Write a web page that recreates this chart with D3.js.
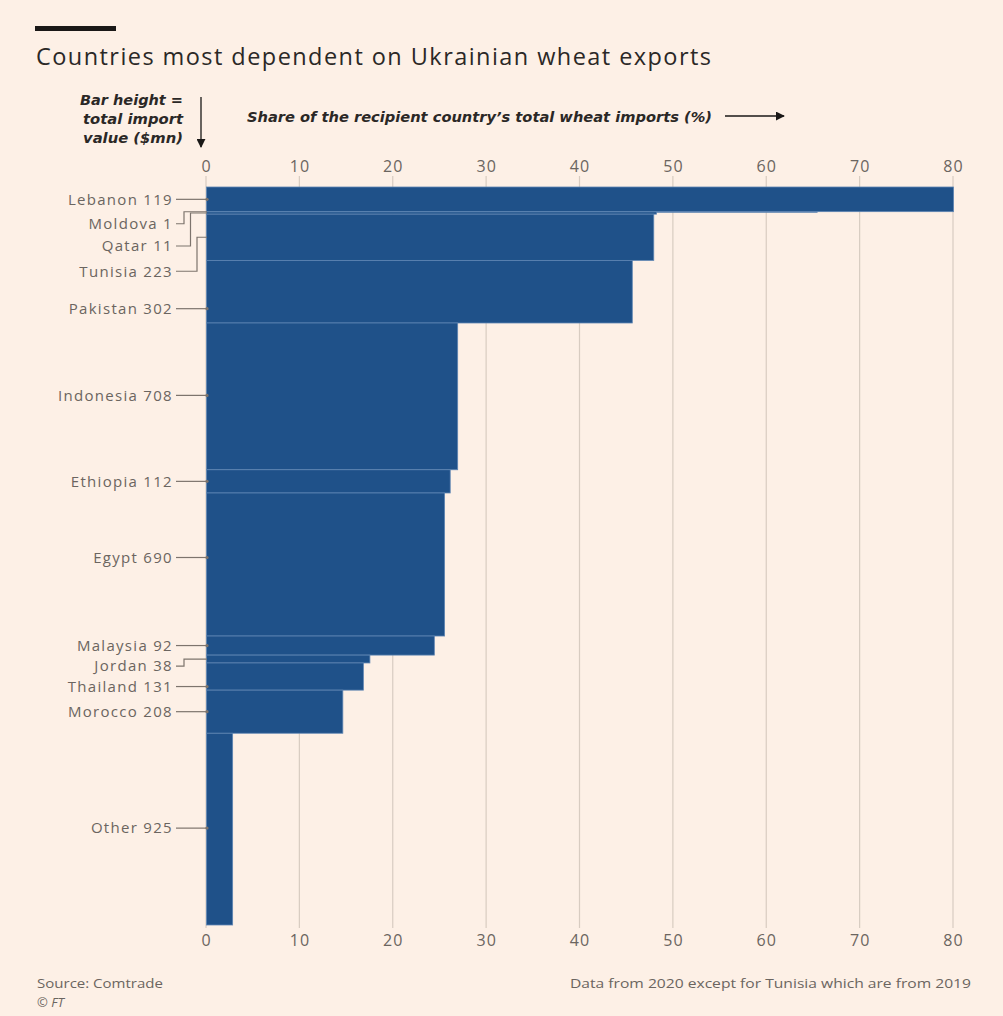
<!DOCTYPE html>
<html>
<head>
<meta charset="utf-8">
<script src="https://cdn.jsdelivr.net/npm/d3@7"></script>
<style>
  html, body { margin: 0; padding: 0; background: #fdf0e6; }
  svg { display: block; }
</style>
</head>
<body>
<svg id="chart" width="1003" height="1016"></svg>
<script>
// ---------- DATA ----------
const countries = ["Lebanon", "Moldova", "Qatar", "Tunisia", "Pakistan", "Indonesia", "Ethiopia", "Egypt", "Malaysia", "Jordan", "Thailand", "Morocco", "Other"];
const importValues = [119, 1, 11, 223, 302, 708, 112, 690, 92, 38, 131, 208, 925];   // $mn -> bar height
const sharePct = [80.0, 65.4, 48.2, 47.9, 45.6, 26.9, 26.1, 25.5, 24.4, 17.5, 16.8, 14.6, 2.8]; // % -> bar length
const tickValues = [0, 10, 20, 30, 40, 50, 60, 70, 80];

// ---------- LAYOUT (label nudges, px) ----------
const labelNudge = { Lebanon: 0, Moldova: 12, Qatar: 33, Tunisia: 34, Pakistan: 17, Indonesia: -1, Ethiopia: 0, Egypt: -7, Malaysia: 0, Jordan: 7, Thailand: 10, Morocco: 0, Other: -1 };

const W = 1003, H = 1016;
const bg = "#fdf0e6";
const barColor = "#1f5189";
const textGrey = "#6b6560";
const gridColor = "#d8ccc1";
const font = "'Open Sans', 'Noto Sans', sans-serif";
const annFont = "'DejaVu Sans', 'Open Sans', sans-serif";

const svg = d3.select("#chart");
svg.append("rect").attr("width", W).attr("height", H).attr("fill", bg);

const total = d3.sum(importValues);
const x = d3.scaleLinear().domain([0, 80]).range([206, 953]);
const y = d3.scaleLinear().domain([0, total]).range([187, 925]);

// rows
let cum = 0;
const rows = countries.map((c, i) => {
  const r = { name: c, value: importValues[i], share: sharePct[i], y0: cum, y1: cum + importValues[i] };
  cum += importValues[i];
  return r;
});

// header rule
svg.append("rect").attr("x", 35).attr("y", 26).attr("width", 81).attr("height", 5).attr("fill", "#1a1817");

// title
svg.append("text").attr("x", 36).attr("y", 65)
  .attr("font-family", font).attr("font-size", 23.5).attr("fill", "#2b2826")
  .attr("textLength", 675).attr("lengthAdjust", "spacing")
  .text("Countries most dependent on Ukrainian wheat exports");

// annotation: bar height
const annLines = ["Bar height =", "total import", "value ($mn)"];
const annWidths = [103, 100, 100];
annLines.forEach((t, i) => {
  svg.append("text").attr("x", 183 - annWidths[i]).attr("y", 105 + i * 19)
    .attr("font-family", annFont).attr("font-size", 13.5)
    .attr("font-weight", "bold").attr("font-style", "italic").attr("fill", "#2b2826")
    .attr("textLength", annWidths[i]).attr("lengthAdjust", "spacingAndGlyphs")
    .text(t);
});

svg.append("defs").append("marker").attr("id", "ah").attr("viewBox", "0 0 10 10")
  .attr("refX", 9).attr("refY", 5).attr("markerWidth", 9).attr("markerHeight", 9)
  .attr("markerUnits", "userSpaceOnUse").attr("orient", "auto")
  .append("path").attr("d", "M0,0 L10,5 L0,10 Z").attr("fill", "#1a1817");

svg.append("line").attr("x1", 201).attr("y1", 97).attr("x2", 201).attr("y2", 147)
  .attr("stroke", "#1a1817").attr("stroke-width", 1.3).attr("marker-end", "url(#ah)");

svg.append("text").attr("x", 247).attr("y", 122)
  .attr("font-family", annFont).attr("font-size", 13.5)
  .attr("font-weight", "bold").attr("font-style", "italic").attr("fill", "#2b2826")
  .attr("textLength", 465).attr("lengthAdjust", "spacingAndGlyphs")
  .text("Share of the recipient country\u2019s total wheat imports (%)");

svg.append("line").attr("x1", 725).attr("y1", 116).attr("x2", 784).attr("y2", 116)
  .attr("stroke", "#1a1817").attr("stroke-width", 1.3).attr("marker-end", "url(#ah)");

// gridlines
svg.append("g").selectAll("line").data(tickValues).join("line")
  .attr("x1", d => x(d)).attr("x2", d => x(d))
  .attr("y1", 176).attr("y2", 928)
  .attr("stroke", gridColor).attr("stroke-width", 1.2);

// axes
function styleAxis(g) {
  g.select(".domain").remove();
  g.selectAll(".tick line").remove();
  g.selectAll("text").attr("font-family", font).attr("font-size", 16)
    .attr("letter-spacing", 1).attr("fill", textGrey);
}
svg.append("g").attr("transform", "translate(0,172)")
  .call(d3.axisTop(x).tickValues(tickValues).tickSize(0).tickPadding(0))
  .call(styleAxis);
svg.append("g").attr("transform", "translate(0,935)")
  .call(d3.axisBottom(x).tickValues(tickValues).tickSize(0).tickPadding(0))
  .call(styleAxis)
  .selectAll("text").attr("dy", "0.71em");

// bars
svg.append("g").selectAll("rect").data(rows).join("rect")
  .attr("x", x(0) + 0.5)
  .attr("y", d => y(d.y0))
  .attr("width", d => x(d.share) - x(0))
  .attr("height", d => Math.max(0.6, y(d.y1) - y(d.y0)))
  .attr("fill", barColor)
  .attr("stroke", "#5f86b3").attr("stroke-width", 0.8);

// labels with connectors
const lab = svg.append("g");
let elbowIdx = 0;
rows.forEach((d, i) => {
  const cy = (y(d.y0) + y(d.y1)) / 2;
  const ly = cy + (labelNudge[d.name] || 0);
  const top = y(d.y0), bot = y(d.y1);
  const x0 = 176, xEnd = x(0) + 1;
  let path;
  if (ly >= top && ly <= bot) {
    path = `M${x0},${ly} H${xEnd}`;
    elbowIdx = 0;
    lab.append("circle").attr("cx", xEnd).attr("cy", ly).attr("r", 1.6).attr("fill", "#7d746d");
  } else {
    const ex = 184 + elbowIdx * 6.5;
    path = `M${x0},${ly} H${ex} V${cy} H${xEnd}`;
    elbowIdx++;
  }
  lab.append("path").attr("d", path).attr("fill", "none")
    .attr("stroke", "#7d746d").attr("stroke-width", 1.2);
  lab.append("text").attr("x", 173).attr("y", ly).attr("dy", "0.35em")
    .attr("text-anchor", "end").attr("font-family", font).attr("font-size", 15)
    .attr("letter-spacing", 1.3)
    .attr("fill", textGrey)
    .text(`${d.name} ${d.value}`);
});

// footer
svg.append("text").attr("x", 37).attr("y", 988).attr("font-family", font)
  .attr("font-size", 13).attr("fill", textGrey)
  .attr("textLength", 126).attr("lengthAdjust", "spacingAndGlyphs")
  .text("Source: Comtrade");
svg.append("text").attr("x", 37).attr("y", 1007).attr("font-family", font)
  .attr("font-size", 13).attr("font-style", "italic").attr("fill", textGrey).text("\u00A9 FT");
svg.append("text").attr("x", 570).attr("y", 988).attr("font-family", font)
  .attr("font-size", 13).attr("fill", textGrey)
  .attr("textLength", 401).attr("lengthAdjust", "spacingAndGlyphs")
  .text("Data from 2020 except for Tunisia which are from 2019");
</script>
</body>
</html>
